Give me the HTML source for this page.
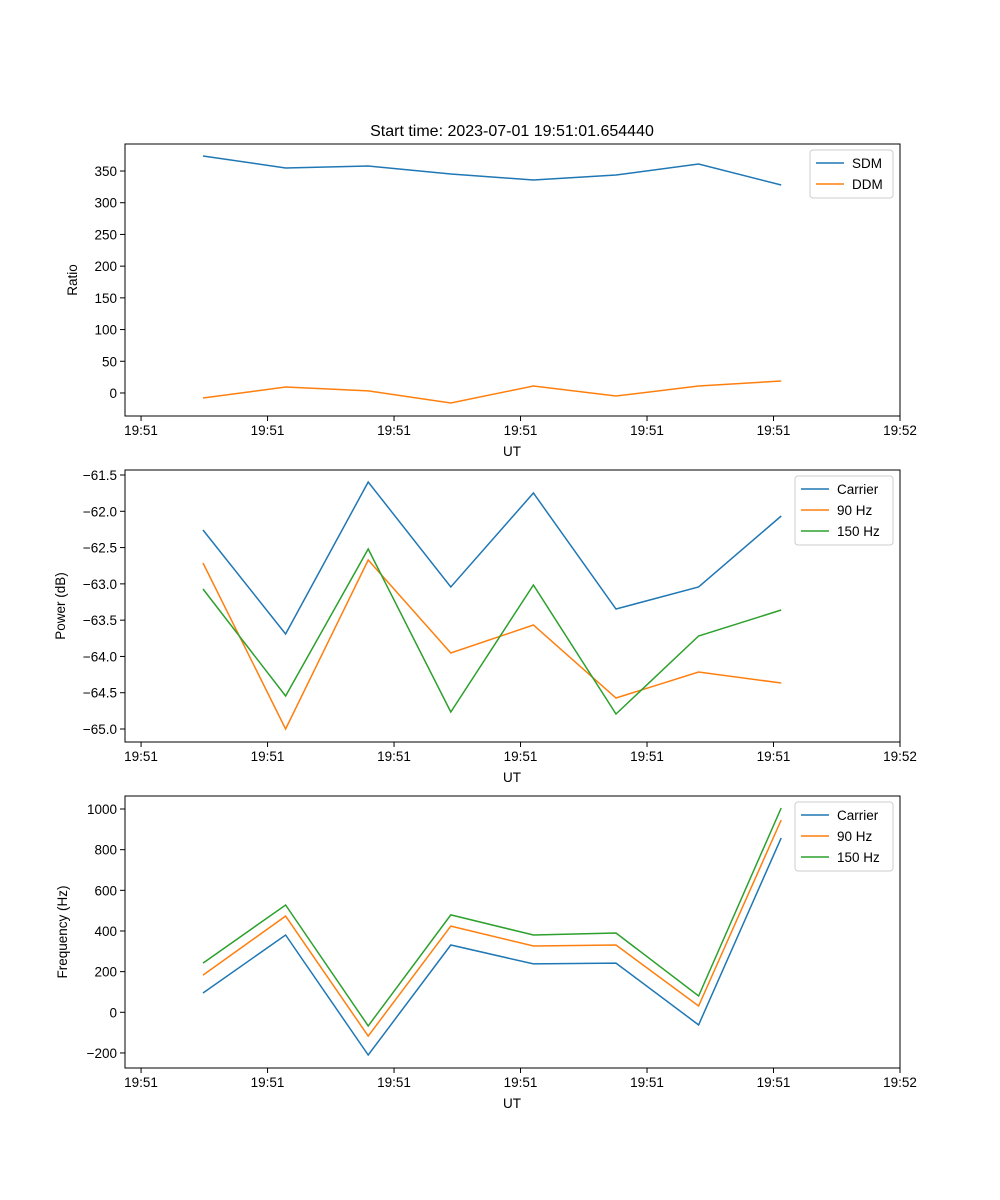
<!DOCTYPE html>
<html><head><meta charset="utf-8"><style>
body{margin:0;background:#fff}
svg{display:block;font-family:"Liberation Sans","DejaVu Sans",sans-serif}
</style></head><body>
<svg id="fig" width="1000" height="1200" xmlns="http://www.w3.org/2000/svg">
<rect width="1000" height="1200" fill="#fff"/>
<text x="512" y="136" text-anchor="middle" font-size="16">Start time: 2023-07-01 19:51:01.654440</text>
</svg>
<script>
const xSeconds=[4.9,11.43,17.96,24.49,31.02,37.55,44.08,50.61];
const xTickVals=[0,10,20,30,40,50,60];
const xTickLabels=["19:51","19:51","19:51","19:51","19:51","19:51","19:52"];
const sdm=[373.6,354.7,357.9,345.3,335.8,343.7,361,327.9];
const ddm=[-7.9,9.5,3.2,-15.8,11,-4.7,11,18.9];
const ratioTicks=[0,50,100,150,200,250,300,350];
const pwrCarrier=[-62.258,-63.691,-61.596,-63.043,-61.748,-63.347,-63.043,-62.065];
const pwr90=[-62.713,-65.0,-62.671,-63.953,-63.567,-64.573,-64.215,-64.366];
const pwr150=[-63.071,-64.545,-62.52,-64.766,-63.016,-64.793,-63.718,-63.36];
const pwrTicks=[-65.0,-64.5,-64.0,-63.5,-63.0,-62.5,-62.0,-61.5];
const frqCarrier=[95,380,-210,331,238,242,-62,858];
const frq90=[183,473,-117,424,326,331,31,946];
const frq150=[242,528,-67,479,380,390,80,1005];
const frqTicks=[-200,0,200,400,600,800,1000];

const NS="http://www.w3.org/2000/svg";
const svg=document.getElementById('fig');
function el(tag,attrs,parent){const e=document.createElementNS(NS,tag);for(const k in attrs)e.setAttribute(k,attrs[k]);(parent||svg).appendChild(e);return e;}
const L=125,R=900,X0=-1.27,X1=60;
const xs=v=>L+(v-X0)/(X1-X0)*(R-L);
const C=['#1f77b4','#ff7f0e','#2ca02c'];

function panel(name,top,bot,y0,y1,ticks,fmt,ylabel,series,names,legW){
  const g=el('g',{});
  
  
  const ys=v=>bot-(v-y0)/(y1-y0)*(bot-top);
  series.forEach((s,i)=>{
    const p=el('polyline',{points:s.map((v,j)=>xs(xSeconds[j]).toFixed(1)+','+ys(v).toFixed(1)).join(' '),fill:'none',stroke:C[i],'stroke-width':1.5},g);
    
    
  });
  const f=el('rect',{x:L,y:top,width:R-L,height:bot-top,fill:'none',stroke:'#000','stroke-width':1},g);
  
  
  xTickVals.forEach((v,i)=>{
    const x=xs(v);
    el('line',{x1:x,x2:x,y1:bot,y2:bot+5,stroke:'#000'},g);
    const t=el('text',{x:x,y:bot+19,'text-anchor':'middle','font-size':13.5},g);
    t.textContent=xTickLabels[i];
    
    
  });
  const xl=el('text',{x:512,y:bot+40,'text-anchor':'middle','font-size':13.5},g);
  xl.textContent='UT';
  
  
  ticks.forEach(v=>{
    const y=ys(v);
    el('line',{x1:L-5,x2:L,y1:y,y2:y,stroke:'#000'},g);
    const t=el('text',{x:L-8,y:y+5,'text-anchor':'end','font-size':13.5},g);
    t.textContent=fmt(v);
    
    
  });
  const yl=el('text',{x:0,y:0,'text-anchor':'middle','font-size':13.5,transform:`translate(${L-ylabel[1]},${(top+bot)/2}) rotate(-90)`},g);
  yl.textContent=ylabel[0];
  
  
  const lx=R-7-legW, ly=top+6;
  const lg=el('g',{},g);
  
  
  el('rect',{x:lx,y:ly,width:legW,height:names.length*21+6,rx:3,fill:'#fff','fill-opacity':0.8,stroke:'#ccc'},lg);
  names.forEach((n,i)=>{
    const yy=ly+13+i*21;
    el('line',{x1:lx+6,x2:lx+34,y1:yy,y2:yy,stroke:C[i],'stroke-width':1.5},lg);
    const t=el('text',{x:lx+42,y:yy+5,'font-size':13.5},lg);
    t.textContent=n;
    
    
  });
}
panel('ratio',144,416,-36.3,392.6,ratioTicks,v=>String(v),['Ratio',48],[sdm,ddm],['SDM','DDM'],83);
panel('power',470,742,-65.179,-61.431,pwrTicks,v=>v.toFixed(1).replace('-','\u2212'),['Power (dB)',60],[pwrCarrier,pwr90,pwr150],['Carrier','90 Hz','150 Hz'],98);
panel('frequency',796,1068,-274,1064,frqTicks,v=>String(v).replace('-','\u2212'),['Frequency (Hz)',58],[frqCarrier,frq90,frq150],['Carrier','90 Hz','150 Hz'],98);
</script>
</body></html>
